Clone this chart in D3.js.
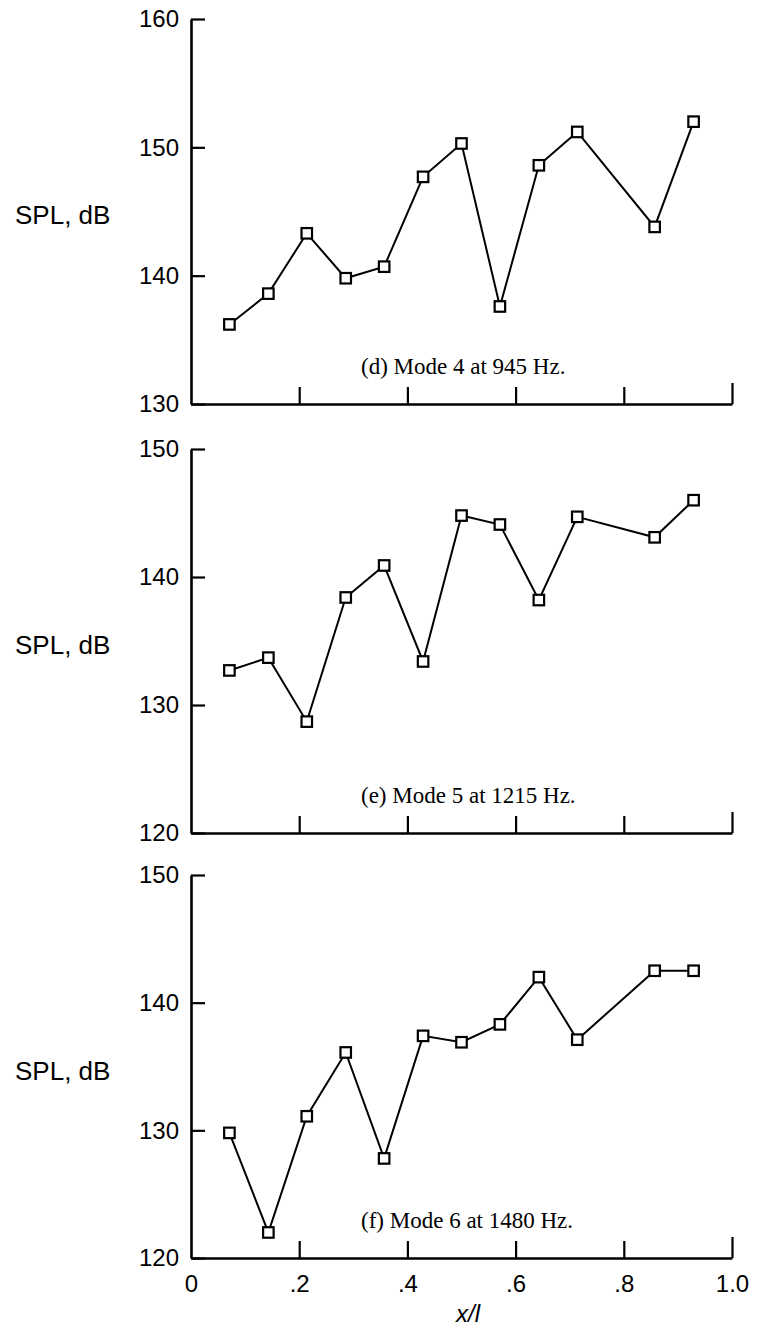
<!DOCTYPE html>
<html>
<head>
<meta charset="utf-8">
<script src="https://cdn.jsdelivr.net/npm/d3@7/dist/d3.min.js"></script>
<style>
  html, body { margin: 0; padding: 0; background: #fff; }
  svg { display: block; }
</style>
</head>
<body>
<svg id="chart" width="757" height="1330"></svg>
<script>
// ---- data ----
const xPositions = [0.071, 0.143, 0.214, 0.286, 0.357, 0.429, 0.500, 0.571, 0.643, 0.714, 0.857, 0.929];
const splMode4 = [136.2, 138.6, 143.3, 139.8, 140.7, 147.7, 150.3, 137.6, 148.6, 151.2, 143.8, 152.0];
const splMode5 = [132.7, 133.7, 128.7, 138.4, 140.9, 133.4, 144.8, 144.1, 138.2, 144.7, 143.1, 146.0];
const splMode6 = [129.8, 122.0, 131.1, 136.1, 127.8, 137.4, 136.9, 138.3, 142.0, 137.1, 142.5, 142.5];
const captions = ["(d) Mode 4 at 945 Hz.", "(e) Mode 5 at 1215 Hz.", "(f) Mode 6 at 1480 Hz."];
const yDomains = [[130, 160], [120, 150], [120, 150]];
const yTickValues = [[130, 140, 150, 160], [120, 130, 140, 150], [120, 130, 140, 150]];
const xTickValues = [0, 0.2, 0.4, 0.6, 0.8, 1.0];
const xTickLabels = ["0", ".2", ".4", ".6", ".8", "1.0"];
const yLabel = "SPL, dB";
const xLabel = "x/l";

const series = [splMode4, splMode5, splMode6];

// ---- layout ----
const svg = d3.select("#chart");
const left = 191, right = 732;
const panels = [
  { top: 19, bottom: 404 },
  { top: 449, bottom: 833 },
  { top: 875, bottom: 1258 }
];
const x = d3.scaleLinear().domain([0, 1]).range([left, right]);
const sans = "'Liberation Sans', Arial, Helvetica, sans-serif";
const serif = "'Liberation Serif', 'Times New Roman', serif";

panels.forEach((p, i) => {
  const y = d3.scaleLinear().domain(yDomains[i]).range([p.bottom, p.top]);
  const g = svg.append("g");

  // y axis
  const yAxis = d3.axisLeft(y).tickValues(yTickValues[i]).tickSizeInner(-14).tickSizeOuter(0).tickPadding(12)
    .tickFormat(d3.format("d"));
  const ya = g.append("g").attr("transform", `translate(${left},0)`).call(yAxis);
  ya.select(".domain").attr("stroke", "#000").attr("stroke-width", 2.6);
  ya.selectAll(".tick line").attr("stroke", "#000").attr("stroke-width", 2.2);
  ya.selectAll(".tick text").attr("font-family", sans).attr("font-size", 24).attr("fill", "#000");

  // x axis
  const isLast = i === panels.length - 1;
  const xAxis = d3.axisBottom(x).tickValues(xTickValues).tickSizeInner(-17).tickSizeOuter(0).tickPadding(17)
    .tickFormat((d, k) => isLast ? xTickLabels[k] : "");
  const xa = g.append("g").attr("transform", `translate(0,${p.bottom})`).call(xAxis);
  xa.select(".domain").attr("stroke", "#000").attr("stroke-width", 2.6);
  xa.selectAll(".tick line").attr("stroke", "#000").attr("stroke-width", 2.2)
    .attr("y2", d => d === 1 ? -21 : (d === 0 ? 0 : -17));
  xa.selectAll(".tick text").attr("font-family", sans).attr("font-size", 24).attr("fill", "#000");

  // y label
  g.append("text").attr("x", 15).attr("y", p.top + 205)
    .attr("font-family", sans).attr("font-size", 26).attr("fill", "#000").text(yLabel);

  // caption
  g.append("text").attr("x", 361).attr("y", p.bottom - 30)
    .attr("font-family", serif).attr("font-size", 23).attr("fill", "#000").text(captions[i]);

  // data line
  const pts = xPositions.map((xv, k) => [xv, series[i][k]]);
  const line = d3.line().x(d => x(d[0])).y(d => y(d[1]));
  g.append("path").datum(pts).attr("d", line).attr("fill", "none").attr("stroke", "#000").attr("stroke-width", 2);

  // markers
  const s = 10.5;
  g.selectAll("rect.pt").data(pts).join("rect").attr("class", "pt")
    .attr("x", d => x(d[0]) - s / 2).attr("y", d => y(d[1]) - s / 2)
    .attr("width", s).attr("height", s)
    .attr("fill", "#fff").attr("stroke", "#000").attr("stroke-width", 2.2);
});

// x label
svg.append("text").attr("x", 468).attr("y", 1322).attr("text-anchor", "middle")
  .attr("font-family", sans).attr("font-style", "italic").attr("font-size", 24).attr("fill", "#000").text(xLabel);
</script>
</body>
</html>
